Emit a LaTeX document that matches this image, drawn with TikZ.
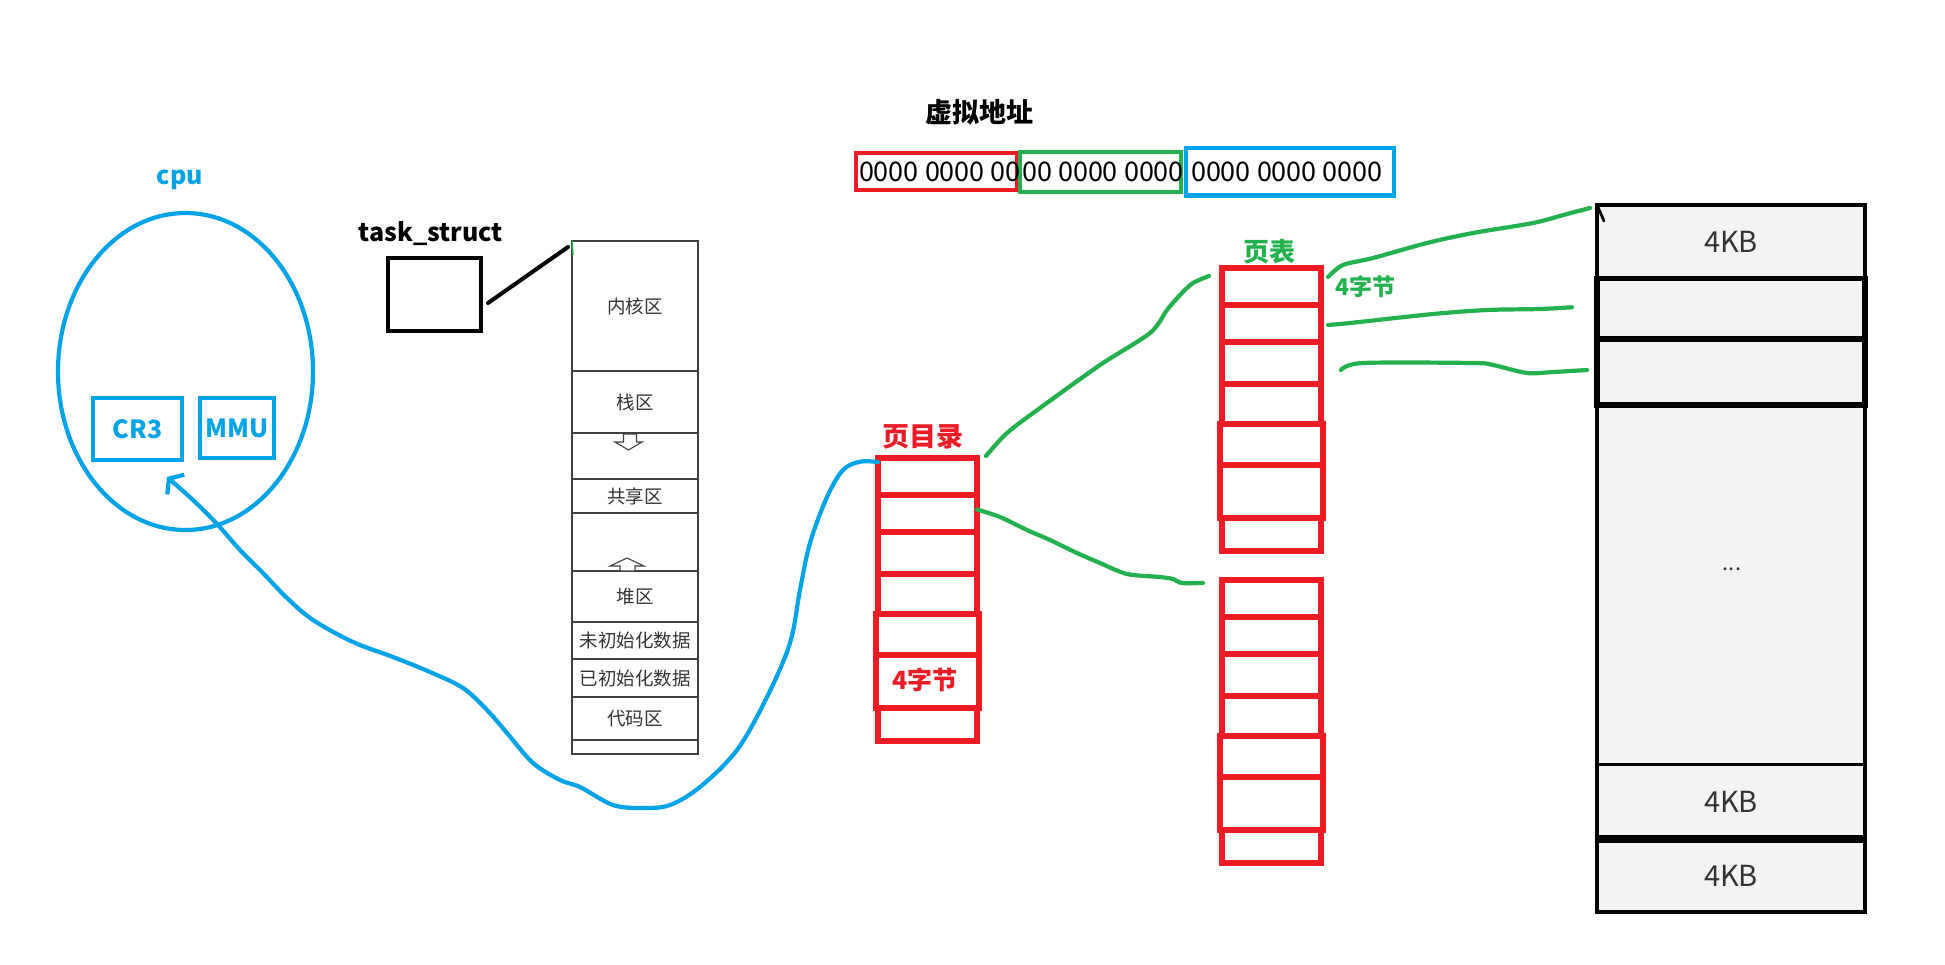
\documentclass[tikz,border=0pt]{standalone}
\usepackage{fontspec}
\setmainfont{Noto Sans CJK SC}
\usepackage{tikz}
\usetikzlibrary{arrows.meta, shapes.geometric}
\usepackage{xcolor}
\definecolor{hbblue}{HTML}{00A2E8}
\definecolor{hbred}{HTML}{ED1C24}
\definecolor{hbgreen}{HTML}{22B14C}
\definecolor{pagegray}{HTML}{F3F3F3}
\definecolor{inkgray}{HTML}{333333}
\newcommand\pxfont[1]{\fontsize{#1}{#1}\selectfont}

\begin{document}
\begin{tikzpicture}[x=1pt, y=-1pt,
  every node/.append style={inner sep=0pt, outer sep=0pt},
  bluepen/.style={hbblue, line width=4.2pt, line cap=round, line join=round},
  greenpen/.style={hbgreen, line width=4.2pt, line cap=round, line join=round},
  cpubox/.style={draw=hbblue, line width=4pt, text=hbblue, font=\pxfont{25}\bfseries},
  memcell/.style={draw=black!75, line width=1.4pt, minimum width=126pt, text=inkgray, font=\pxfont{18.5}},
  ptrow/.style={draw=hbred, line width=5.3pt},
  page/.style={draw=black, fill=pagegray, line width=3.8pt, minimum width=268pt, text=inkgray, font=\pxfont{29}},
  vabox/.style={draw, line width=4pt},
  vabits/.style={anchor=west, font=\pxfont{27}}]
  \useasboundingbox (0,0) rectangle (1945,964);

  % cpu
  \node[hbblue, font=\pxfont{25}\bfseries] (cpu-label) at (180,180) {cpu};
  \node[draw=hbblue, line width=4.2pt, ellipse, minimum width=255pt, minimum height=317pt] (cpu) at (185.5,371.5) {};
  \node[cpubox, minimum width=89pt, minimum height=62pt] (cr3) at (137.5,429) {CR3};
  \node[cpubox, minimum width=74pt, minimum height=60pt] (mmu) at (237,428) {MMU};

  \node[font=\pxfont{25}\bfseries] (task-label) at (431,234) {task\_struct};
  \node[draw, line width=4.5pt, minimum width=93pt, minimum height=73pt] (task) at (434.5,294.5) {};

  % 进程地址空间
  \node[draw=black!75, line width=1.4pt, minimum width=126pt, minimum height=513pt] (mem) at (635,497.5) {};
  \foreach \id/\ya/\yb/\txt in {kernel/241/371/内核区, stack/371/433/栈区, shared/479/513/共享区,
      heap/571/622/堆区, bss/622/659/未初始化数据, data/659/697/已初始化数据, code/697/740/代码区}
    \node[memcell, minimum height={(\yb-\ya)*1pt}] (mem-\id) at (635,{(\ya+\yb)/2}) {\txt};
  \draw[black!75, line width=1.1pt, fill=white] (623.5,434) -- (636.5,434) -- (636.5,442) -- (642,442)
    -- (628.5,450) -- (615,442) -- (623.5,442) -- cycle;
  \draw[black!75, line width=1.1pt, fill=white] (627,558) -- (644,566) -- (635,566) -- (635,571)
    -- (620,571) -- (620,566) -- (610,566) -- cycle;
  \draw[hbgreen, line width=1.5pt] (mem.north west) -- ++(1,14);
  \draw[line width=4pt, line cap=round] ([xshift=7pt,yshift=-8.5pt]task.east) -- ([xshift=-4pt,yshift=-6pt]mem.north west);

  % 虚拟地址
  \node[font=\pxfont{27}\bfseries] (va-label) at (979,112) {虚拟地址};
  \node[vabox, hbred, minimum width=161pt, minimum height=37pt] (va-dir) at (936.5,171.5) {};
  \node[vabox, hbgreen, minimum width=160.5pt, minimum height=40pt] (va-tab) at (1100.25,172) {};
  \node[vabox, hbblue, line width=4.6pt, minimum width=208pt, minimum height=47.5pt] (va-off) at (1290,171.75) {};
  \node[vabits] (va-dir-bits) at ([xshift=3pt]va-dir.west) {0000 0000 00};
  \node[vabits] (va-tab-bits) at ([xshift=2pt]va-tab.west) {00 0000 0000};
  \node[vabits] (va-off-bits) at ([xshift=5pt]va-off.west) {0000 0000 0000};

  % 页目录 / 页表
  \foreach \tab/\tx/\ty in {pd/878/458, pta/1222/268, ptb/1222/580}
    \foreach \i/\ya/\yb/\w in {1/0/37/0, 2/37/74/0, 3/74/116/0, 4/116/156/0, 5/156/197/2, 6/197/250/2, 7/250/283/0}
      \node[ptrow, minimum width={(99+2*\w)*1pt}, minimum height={(\yb-\ya)*1pt}] (\tab-\i) at ({\tx+49.5},{\ty+(\ya+\yb)/2}) {};
  \node[hbred, font=\pxfont{27}\bfseries] (pd-label) at (922.5,436.5) {页目录};
  \node[hbred, font=\pxfont{25}\bfseries] (pd-size) at (925,680) {4字节};
  \node[hbgreen, font=\pxfont{26}\bfseries] (pt-label) at (1269,251.7) {页表};
  \node[hbgreen, font=\pxfont{23}\bfseries] (pt-size) at (1365,287) {4字节};

  % 物理内存
  \node[page, minimum height=73.5pt] (page-1) at (1731,241.75) {4KB};
  \node[page, minimum height=359.5pt] (page-mid) at (1731,584.75) {};
  \node[page, minimum height=74.5pt] (page-4) at (1731,801.75) {4KB};
  \node[page, minimum height=73pt] (page-5) at (1731,875.5) {4KB};
  \node[page, line width=5.3pt, minimum height=60.5pt] (page-2) at (1731,308.75) {};
  \node[page, line width=5.3pt, minimum height=66pt] (page-3) at (1731,372) {};
  \node[text=inkgray, font=\pxfont{22}] (page-dots) at (1732,569) {...};
  \draw[line width=7.5pt] (page-5.north west) -- (page-5.north east);
  \draw[line width=2.8pt, line cap=round] (page-1.north west) -- ++(7,16);

  % CR3 -> 页目录
  \coordinate (pd-in) at ([yshift=-4pt]pd-1.north west);
  \coordinate (cr3-tip) at ([xshift=29.5pt,yshift=-17pt]cr3.south);
  \draw[bluepen, -{Straight Barb[length=9pt, width=26pt]}] plot[smooth, tension=0.55] coordinates {
    (pd-in) (860,461.7) (843,470) (827,497) (810,543) (800,590) (790,643) (767,697) (737,750)
    (700,787) (670,805) (643,808) (613,805) (580,787) (560,780) (533,763) (507,733) (487,710)
    (463,688) (430,672) (393,657) (353,642) (313,620) (287,598) (263,573) (240,550) (218,525)
    (193,500) (cr3-tip)};

  % 页目录 -> 页表 -> 物理页
  \coordinate (g1-a) at ([xshift=9pt,yshift=2pt]pd-1.north east);
  \coordinate (g1-b) at ([xshift=-13pt,yshift=-8pt]pta-1.north west);
  \draw[greenpen] plot[smooth, tension=0.5] coordinates {(g1-a) (1007,433) (1040,408) (1100,365)
    (1150,333) (1167,310) (1180,295) (1193,283) (g1-b)};
  \coordinate (g2-a) at ([yshift=4pt]pd-2.east);
  \coordinate (g2-b) at ([xshift=-19pt,yshift=-3pt]ptb-1.north west);
  \draw[greenpen] plot[smooth, tension=0.5] coordinates {(g2-a) (1000,517) (1027,530) (1050,540)
    (1077,553) (1100,563) (1127,574) (1160,577) (1173,579) (1182,583) (g2-b)};
  \coordinate (g3-a) at ([xshift=7pt,yshift=-9pt]pta-1.north east);
  \coordinate (g3-b) at ([xshift=-7pt,yshift=-3pt]page-1.north west);
  \draw[greenpen] plot[smooth, tension=0.5] coordinates {(g3-a) (1343,265) (1373,258) (1427,243)
    (1473,233) (1533,223) (1567,214) (g3-b)};
  \coordinate (g4-a) at ([xshift=7pt,yshift=-1.5pt]pta-2.east);
  \coordinate (g4-b) at ([xshift=-25pt,yshift=1.5pt]page-2.west);
  \draw[greenpen] plot[smooth, tension=0.5] coordinates {(g4-a) (1350,323) (1433,314) (1487,310)
    (1540,309) (g4-b)};
  \coordinate (g5-a) at ([xshift=20pt,yshift=-7pt]pta-3.east);
  \coordinate (g5-b) at ([xshift=-10pt,yshift=2pt]page-3.west);
  \draw[greenpen] plot[smooth, tension=0.5] coordinates {(g5-a) (1363,363) (1473,363) (1493,365)
    (1527,373) (1553,372) (g5-b)};
\end{tikzpicture}
\end{document}
